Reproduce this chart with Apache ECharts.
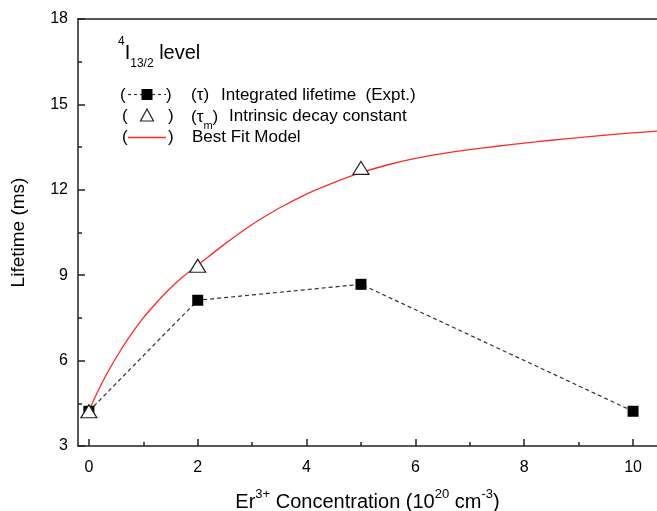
<!DOCTYPE html>
<html><head><meta charset="utf-8">
<script src="https://cdn.jsdelivr.net/npm/echarts@6/dist/echarts.min.js"></script>
<style>html,body{margin:0;padding:0;background:#fff}#c{width:657px;height:511px}</style>
</head><body><div id="c"></div>
<script>
// Data
var concentration = [0, 2, 5, 10];
var integratedLifetime = [4.22, 8.12, 8.68, 4.22];
var intrinsicX = [0, 2, 5];
var intrinsicDecay = [4.22, 9.33, 12.77];
var fitX = [0, 0.25, 0.5, 0.75, 1, 1.25, 1.5, 1.75, 2, 2.5, 3, 3.5, 4, 4.5, 5, 5.5, 6, 6.5, 7, 7.5, 8, 8.5, 9, 9.5, 10, 10.44];
var fitY = [4.25, 5.25, 6.1, 6.85, 7.5, 8.05, 8.55, 8.98, 9.35, 10.1, 10.78, 11.36, 11.85, 12.25, 12.6, 12.88, 13.1, 13.27, 13.41, 13.53, 13.64, 13.74, 13.83, 13.92, 14.0, 14.06];
var xMajorTicks = [0, 2, 4, 6, 8, 10];
var xMinorTicks = [1, 3, 5, 7, 9];

function pairs(xs, ys){ return xs.map(function(x,i){ return [x, ys[i]]; }); }

var FONT = 'Liberation Sans, Arial, sans-serif';
var AX = '#222';
var chart = echarts.init(document.getElementById('c'));
var xMin = -0.2, xMax = 10.44;

function txt(x, y, s, extra){
  var st = { text: s, fontSize: 17, fontFamily: FONT, fill: '#000', verticalAlign: 'middle' };
  if (extra) for (var k in extra) st[k] = extra[k];
  return { type: 'text', x: x, y: y, style: st, z: 10 };
}

chart.setOption({
  animation: false,
  backgroundColor: '#fff',
  grid: { left: 78, right: 0, top: 19, bottom: 65, containLabel: false, outerBoundsMode: 'none' },
  xAxis: [
    { type: 'value', min: xMin, max: xMax, position: 'bottom',
      axisLine: { show: true, onZero: false, lineStyle: { color: AX, width: 1.5 } },
      axisTick: { show: true, inside: true, length: 7, customValues: xMajorTicks, lineStyle: { color: AX, width: 1.5 } },
      axisLabel: { customValues: xMajorTicks, margin: 14, color: '#000', fontSize: 16, fontFamily: FONT },
      splitLine: { show: false },
      name: '{n|Er}{sup|3+}{n| Concentration (10}{sup|20}{n| cm}{sup|-3}{n|)}',
      nameLocation: 'middle', nameGap: 42,
      nameTextStyle: { rich: {
        n: { fontSize: 20, fontFamily: FONT, color: '#000', verticalAlign: 'bottom', lineHeight: 24 },
        sup: { fontSize: 13, fontFamily: FONT, color: '#000', verticalAlign: 'top', lineHeight: 24, padding: [0,0,8,0] }
      } }
    },
    { type: 'value', min: xMin, max: xMax, position: 'bottom', gridIndex: 0,
      axisLine: { show: false, onZero: false },
      axisTick: { show: true, inside: true, length: 4, customValues: xMinorTicks, lineStyle: { color: AX, width: 1.5 } },
      axisLabel: { show: false }, splitLine: { show: false }
    },
    { type: 'value', min: xMin, max: xMax, position: 'top', gridIndex: 0,
      axisLine: { show: true, onZero: false, lineStyle: { color: AX, width: 1.5 } },
      axisTick: { show: false }, axisLabel: { show: false }, splitLine: { show: false }
    }
  ],
  yAxis: [
    { type: 'value', min: 3, max: 18, interval: 3, position: 'left',
      axisLine: { show: true, onZero: false, lineStyle: { color: AX, width: 1.5 } },
      axisTick: { show: true, inside: true, length: 7, lineStyle: { color: AX, width: 1.5 } },
      minorTick: { show: true, splitNumber: 2, length: 4, lineStyle: { color: AX, width: 1.5 } },
      axisLabel: { margin: 10, color: '#000', fontSize: 16, fontFamily: FONT },
      splitLine: { show: false },
      name: 'Lifetime (ms)', nameLocation: 'middle', nameGap: 50, nameRotate: 90,
      nameTextStyle: { fontSize: 19, fontFamily: FONT, color: '#000' }
    }
  ],
  series: [
    { name: 'Best Fit Model', type: 'line', data: pairs(fitX, fitY), smooth: 0.3, showSymbol: false, symbol: 'none',
      lineStyle: { color: '#ff2a2a', width: 1.3 }, z: 2 },
    { name: 'Integrated lifetime', type: 'line', data: pairs(concentration, integratedLifetime), symbol: 'rect', symbolSize: 11,
      itemStyle: { color: '#000' }, lineStyle: { color: '#333', width: 1.2, type: [4, 3] }, z: 3 },
    { name: 'Intrinsic decay constant', type: 'scatter', data: pairs(intrinsicX, intrinsicDecay), symbol: 'triangle', symbolSize: [16, 13],
      itemStyle: { color: '#fff', borderColor: '#222', borderWidth: 1.2, opacity: 1 }, z: 4 }
  ],
  graphic: [
    { type: 'text', x: 118, y: 36, z: 10, style: {
      text: '{sup|4}{n|I}{sub|13/2}{n| level}', rich: {
        n: { fontSize: 20, fontFamily: FONT, fill: '#000', verticalAlign: 'bottom', lineHeight: 27 },
        sup: { fontSize: 12, fontFamily: FONT, fill: '#000', verticalAlign: 'top', lineHeight: 27 },
        sub: { fontSize: 12, fontFamily: FONT, fill: '#000', verticalAlign: 'bottom', lineHeight: 27, padding: [0,0,-7,0] }
      } } },
    // legend row 1
    txt(120, 95, '('),
    { type: 'line', shape: { x1: 128, y1: 94.5, x2: 166, y2: 94.5 }, style: { stroke: '#333', lineWidth: 1.2, lineDash: [3, 3] } },
    { type: 'rect', shape: { x: 141.5, y: 89, width: 11, height: 11 }, style: { fill: '#000' } },
    txt(166, 95, ')'),
    txt(191, 95, '(τ)'),
    txt(221, 95, 'Integrated lifetime  (Expt.)'),
    // legend row 2
    txt(122, 116, '('),
    { type: 'polygon', shape: { points: [[147, 109], [140.5, 121], [153.5, 121]] }, style: { fill: '#fff', stroke: '#222', lineWidth: 1.2 } },
    txt(168, 116, ')'),
    { type: 'text', x: 191, y: 107, z: 10, style: {
      text: '{n|(τ}{sub|m}{n|)}', rich: {
        n: { fontSize: 17, fontFamily: FONT, fill: '#000', verticalAlign: 'bottom', lineHeight: 19 },
        sub: { fontSize: 11, fontFamily: FONT, fill: '#000', verticalAlign: 'bottom', lineHeight: 19, padding: [0,0,-5,0] }
      } } },
    txt(229, 116, 'Intrinsic decay constant'),
    // legend row 3
    txt(122, 137, '('),
    { type: 'line', shape: { x1: 128, y1: 137.5, x2: 166, y2: 137.5 }, style: { stroke: '#ff2a2a', lineWidth: 1.3 } },
    txt(168, 137, ')'),
    txt(192, 137, 'Best Fit Model')
  ]
});
</script></body></html>
